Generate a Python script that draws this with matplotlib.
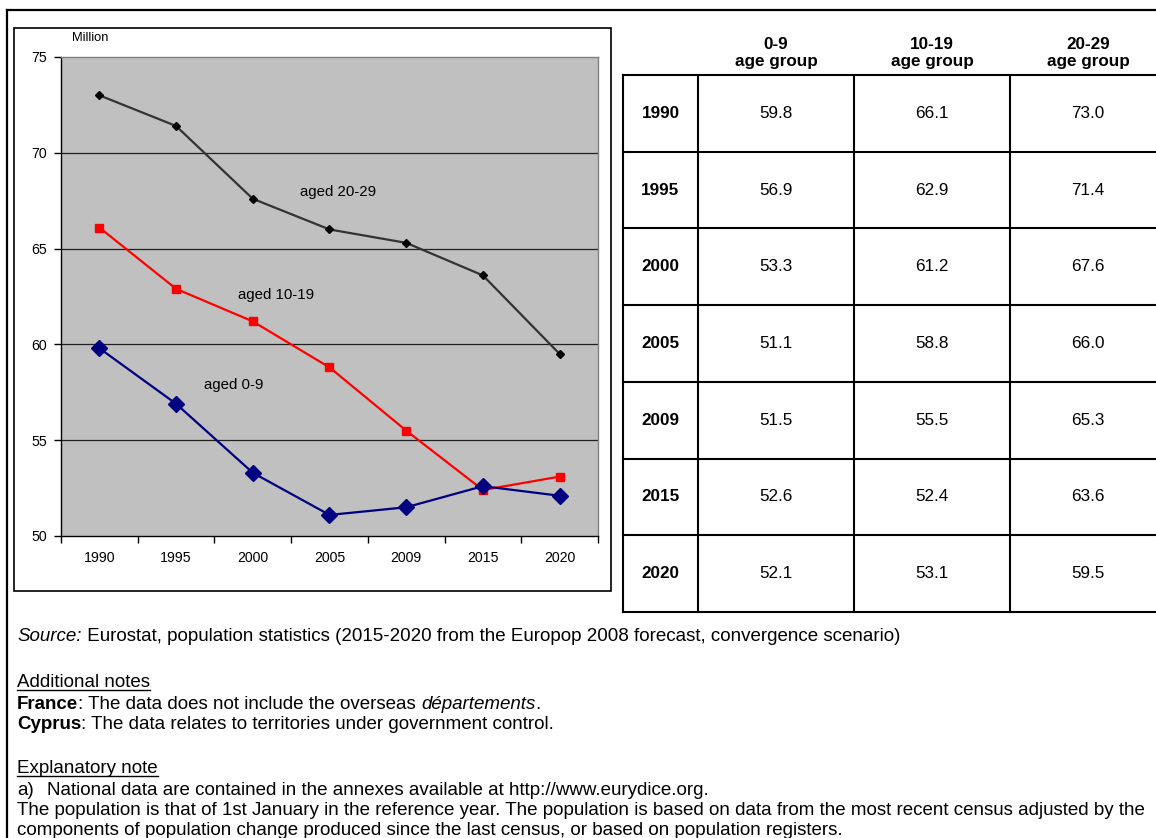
import matplotlib
matplotlib.use("Agg")
import matplotlib.pyplot as plt
from matplotlib.lines import Line2D
from matplotlib.patches import Rectangle

plt.rcParams['font.family'] = ['Liberation Sans', 'DejaVu Sans']

years = ["1990", "1995", "2000", "2005", "2009", "2015", "2020"]
age_0_9 = [59.8, 56.9, 53.3, 51.1, 51.5, 52.6, 52.1]
age_10_19 = [66.1, 62.9, 61.2, 58.8, 55.5, 52.4, 53.1]
age_20_29 = [73.0, 71.4, 67.6, 66.0, 65.3, 63.6, 59.5]
col_headers = ["0-9\nage group", "10-19\nage group", "20-29\nage group"]
y_ticks = [50, 55, 60, 65, 70, 75]

W, H = 1156, 838
fig = plt.figure(figsize=(W / 100, H / 100), dpi=100)
fig.patch.set_facecolor("white")


def fx(x):
    return x / W


def fy(y):
    return 1 - y / H


# outer frame (left and top lines)
fig.add_artist(Line2D([fx(7), fx(7)], [fy(10), fy(840)], color="black", lw=1.6))
fig.add_artist(Line2D([fx(7), fx(1160)], [fy(10), fy(10)], color="black", lw=1.6))

# chart box
fig.add_artist(Rectangle((fx(14), fy(591)), fx(611) - fx(14), fy(28) - fy(591),
                         fill=False, edgecolor="black", lw=1.2))

# chart axes
ax = fig.add_axes([fx(61), fy(536), fx(598) - fx(61), fy(57) - fy(536)])
ax.set_facecolor("#C0C0C0")
xs = list(range(len(years)))
ax.plot(xs, age_20_29, color="#333333", lw=1.6, marker="D", ms=4.5,
        mfc="black", mec="black", zorder=4)
ax.plot(xs, age_10_19, color="#FF0000", lw=1.6, marker="s", ms=6,
        mfc="#FF0000", mec="#FF0000", zorder=4)
ax.plot(xs, age_0_9, color="#000080", lw=1.6, marker="D", ms=8,
        mfc="#000080", mec="#000080", zorder=4)
ax.set_xlim(-0.5, len(years) - 0.5)
ax.set_ylim(50, 75)
ax.set_yticks(y_ticks)
ax.set_yticklabels([str(v) for v in y_ticks], fontsize=10.2)
for v in y_ticks[1:-1]:
    ax.axhline(v, color="#202020", lw=0.9, zorder=1)
ax.set_xticks(xs)
ax.set_xticklabels(years, fontsize=10.2)
ax.set_xticks([i - 0.5 for i in range(len(years) + 1)], minor=True)
ax.tick_params(axis="x", which="major", length=0, pad=11)
ax.tick_params(axis="x", which="minor", length=5, width=1, direction="out")
ax.tick_params(axis="y", length=5, width=1, direction="out", pad=5)
ax.spines["top"].set_color("#808080")
ax.spines["right"].set_color("#808080")
ax.spines["left"].set_color("black")
ax.spines["bottom"].set_color("black")
for s in ax.spines.values():
    s.set_linewidth(1)

ax.text(2.62, 67.95, "aged 20-29", fontsize=10.8, ha="left", va="center")
ax.text(1.81, 62.58, "aged 10-19", fontsize=10.8, ha="left", va="center")
ax.text(1.36, 57.88, "aged 0-9", fontsize=10.8, ha="left", va="center")

fig.text(fx(72), fy(38), "Million", fontsize=9.3, ha="left", va="center")

# table
col_edges = [623, 698, 854, 1010, 1166]
row_top, row_bottom = 75, 612
nrows = len(years)
rh = (row_bottom - row_top) / nrows
tax = fig.add_axes([0, 0, 1, 1])
tax.set_xlim(0, W)
tax.set_ylim(H, 0)
tax.axis("off")
for i in range(nrows + 1):
    y = row_top + i * rh
    tax.plot([col_edges[0], col_edges[-1]], [y, y], color="black", lw=1.5,
             solid_capstyle="projecting")
for x in col_edges:
    tax.plot([x, x], [row_top, row_bottom], color="black", lw=1.5,
             solid_capstyle="projecting")
for j, h in enumerate(col_headers):
    cx = (col_edges[j + 1] + col_edges[j + 2]) / 2
    tax.text(cx, 53, h, fontsize=12.3, fontweight="bold", ha="center",
             va="center", linespacing=1.15)
series = [age_0_9, age_10_19, age_20_29]
for i, yr in enumerate(years):
    cy = row_top + (i + 0.5) * rh
    tax.text((col_edges[0] + col_edges[1]) / 2, cy, yr, fontsize=12.3,
             fontweight="bold", ha="center", va="center")
    for j, s in enumerate(series):
        cx = (col_edges[j + 1] + col_edges[j + 2]) / 2
        tax.text(cx, cy, f"{s[i]:.1f}", fontsize=12.3, ha="center", va="center")

# notes text
renderer = fig.canvas.get_renderer()
NS = 13.5


def rich_line(x, y, parts, size=NS, underline=False):
    for txt, style, weight in parts:
        t = tax.text(x, y, txt, fontsize=size, style=style, fontweight=weight,
                     ha="left", va="baseline")
        bb = t.get_window_extent(renderer=renderer)
        x0 = x
        x = x + bb.width
        if underline:
            tax.plot([x0, x], [y + 2.5, y + 2.5], color="black", lw=1)
    return x


rich_line(17, 641, [("Source:", "italic", "normal"),
                    (" Eurostat, population statistics (2015-2020 from the Europop 2008 forecast, convergence scenario)",
                     "normal", "normal")])
rich_line(17, 687, [("Additional notes", "normal", "normal")], underline=True)
rich_line(17, 709, [("France", "normal", "bold"),
                    (": The data does not include the overseas ", "normal", "normal"),
                    ("départements", "italic", "normal"),
                    (".", "normal", "normal")])
rich_line(17, 729, [("Cyprus", "normal", "bold"),
                    (": The data relates to territories under government control.", "normal", "normal")])
rich_line(17, 773, [("Explanatory note", "normal", "normal")], underline=True)
rich_line(17, 795, [("a)", "normal", "normal")])
rich_line(47, 795, [("National data are contained in the annexes available at http://www.eurydice.org.", "normal", "normal")])
rich_line(17, 815, [("The population is that of 1st January in the reference year. The population is based on data from the most recent census adjusted by the",
                     "normal", "normal")])
rich_line(17, 835, [("components of population change produced since the last census, or based on population registers.",
                     "normal", "normal")])

fig.savefig("out.png", dpi=100, facecolor="white")
